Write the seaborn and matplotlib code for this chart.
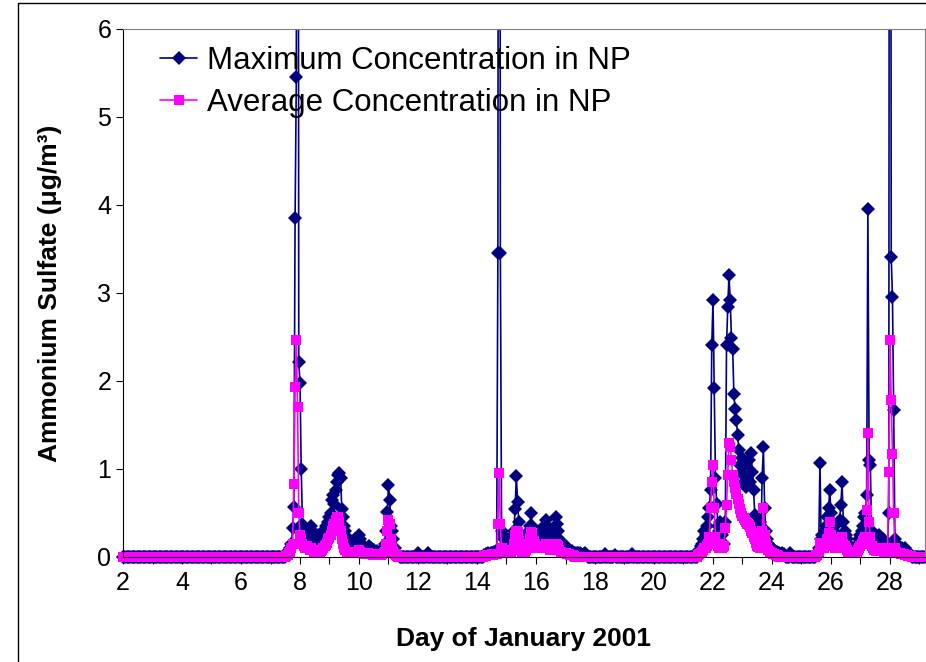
import numpy as np
import matplotlib
matplotlib.use("Agg")
import matplotlib.pyplot as plt
import seaborn as sns
from matplotlib.patches import Rectangle

# hourly readings starting Jan 2 00:00
first_day = 2.0
n_hours = 654
OFF = 20.0  # spikes that run off the top of the axis

# max concentration, runs of hourly values keyed by start day (zero elsewhere)
max_episodes = {
    7.5: [0.0, 0.02, 0.05, 0.08, 0.1, 0.15, 0.33, 0.57, 3.85, 5.45, OFF, 2.22, 1.98, 1.0, 0.38, 0.3,
          0.25, 0.2, 0.3, 0.25, 0.2, 0.35, 0.3, 0.2, 0.15, 0.2, 0.25, 0.18, 0.15, 0.2, 0.25, 0.3,
          0.25, 0.35, 0.3, 0.4, 0.45, 0.5, 0.65, 0.7, 0.6, 0.76, 0.85, 0.93, 0.95, 0.9, 0.55, 0.45,
          0.35, 0.3, 0.2, 0.15, 0.2, 0.15, 0.12, 0.1, 0.15, 0.2, 0.15, 0.1, 0.25, 0.2, 0.15, 0.1,
          0.12, 0.1, 0.08, 0.1, 0.12, 0.08, 0.1, 0.06, 0.08, 0.06, 0.05, 0.07, 0.05, 0.06, 0.05,
          0.08, 0.1, 0.15, 0.3, 0.51, 0.82, 0.65, 0.35, 0.3, 0.2, 0.1, 0.05, 0.03, 0.02],
    12.0: [0.05],
    12.333: [0.05],
    14.25: [0.02, 0.03, 0.03, 0.04, 0.03, 0.04, 0.05, 0.05, 0.06, 0.05, 0.08, 3.45, OFF, 3.45, 0.3,
            0.25, 0.2, 0.15, 0.2, 0.15, 0.2, 0.12, 0.15, 0.2, 0.3, 0.55, 0.92, 0.63, 0.4, 0.25, 0.2,
            0.15, 0.12, 0.15, 0.2, 0.25, 0.3, 0.35, 0.5, 0.35, 0.25, 0.2, 0.15, 0.2, 0.18, 0.25, 0.2,
            0.3, 0.34, 0.3, 0.42, 0.35, 0.25, 0.2, 0.18, 0.25, 0.3, 0.33, 0.45, 0.38, 0.3, 0.2, 0.15,
            0.12, 0.1, 0.1, 0.12, 0.1, 0.08, 0.08, 0.06, 0.07, 0.05, 0.05, 0.04, 0.05, 0.04, 0.03,
            0.04, 0.03, 0.02, 0.03, 0.04, 0.02],
    18.333: [0.03],
    18.667: [0.02],
    19.25: [0.03],
    21.5: [0.05, 0.08, 0.12, 0.15, 0.2, 0.3, 0.25, 0.35, 0.45, 0.56, 0.76, 2.41, 2.92, 1.92, 0.9, 0.6,
           0.35, 0.3, 0.4, 0.25, 0.3, 0.15, 0.4, 2.41, 2.84, 3.2, 2.92, 2.49, 2.36, 1.85, 1.68, 1.56,
           1.39, 1.22, 1.05, 0.95, 1.12, 0.85, 1.05, 0.8, 0.9, 1.1, 0.85, 1.18, 0.97, 0.76, 0.48,
           0.35, 0.28, 0.3, 0.4, 0.25, 0.9, 1.25, 0.56, 0.3, 0.2, 0.15, 0.12, 0.08, 0.1, 0.08, 0.06,
           0.05, 0.06, 0.04, 0.05, 0.03, 0.04, 0.02, 0.03],
    24.625: [0.05],
    25.5: [0.02, 0.05, 0.1, 1.07, 0.2, 0.25, 0.2, 0.3, 0.35, 0.45, 0.56, 0.76, 0.5, 0.35, 0.3, 0.25,
           0.2, 0.25, 0.39, 0.42, 0.59, 0.85, 0.4, 0.3, 0.25, 0.2, 0.15, 0.12, 0.1, 0.08, 0.1, 0.08,
           0.1, 0.12, 0.15, 0.2, 0.25, 0.3, 0.35, 0.45, 0.5, 0.7, 3.95, 1.1, 1.05, 0.3, 0.2, 0.15,
           0.2, 0.15, 0.2, 0.25, 0.2, 0.15, 0.2, 0.15, 0.12, 0.1, 0.15, 0.5, OFF, 3.41, 2.95, 1.67,
           0.2, 0.12, 0.1, 0.12, 0.1, 0.08, 0.1, 0.08, 0.1, 0.06, 0.05, 0.04, 0.03, 0.02],
}

# average concentration
avg_episodes = {
    7.5: [0.0, 0.01, 0.02, 0.04, 0.06, 0.1, 0.15, 0.83, 1.93, 2.47, 1.7, 0.5, 0.25, 0.2, 0.15, 0.12,
          0.1, 0.1, 0.12, 0.1, 0.08, 0.1, 0.08, 0.06, 0.05, 0.05, 0.06, 0.05, 0.06, 0.07, 0.08, 0.1,
          0.12, 0.14, 0.16, 0.2, 0.22, 0.25, 0.3, 0.35, 0.38, 0.42, 0.45, 0.45, 0.4, 0.3, 0.2, 0.15,
          0.1, 0.08, 0.06, 0.05, 0.06, 0.05, 0.04, 0.04, 0.05, 0.06, 0.05, 0.04, 0.08, 0.06, 0.05,
          0.04, 0.04, 0.03, 0.03, 0.04, 0.03, 0.03, 0.03, 0.02, 0.03, 0.02, 0.02, 0.03, 0.02, 0.03,
          0.02, 0.03, 0.04, 0.06, 0.15, 0.3, 0.42, 0.38, 0.2, 0.1, 0.06, 0.03, 0.02, 0.01, 0.0],
    14.25: [0.01, 0.01, 0.02, 0.02, 0.02, 0.02, 0.03, 0.02, 0.03, 0.03, 0.03, 0.37, 0.95, 0.37, 0.1,
            0.08, 0.06, 0.05, 0.06, 0.05, 0.06, 0.05, 0.06, 0.08, 0.15, 0.25, 0.3, 0.28, 0.18, 0.1,
            0.08, 0.06, 0.05, 0.06, 0.08, 0.1, 0.15, 0.22, 0.28, 0.25, 0.18, 0.15, 0.12, 0.1, 0.1,
            0.12, 0.1, 0.12, 0.13, 0.12, 0.15, 0.13, 0.1, 0.08, 0.08, 0.1, 0.11, 0.12, 0.15, 0.14,
            0.12, 0.08, 0.06, 0.05, 0.04, 0.04, 0.04, 0.03, 0.03, 0.03, 0.02, 0.02, 0.02, 0.01],
    21.5: [0.02, 0.03, 0.05, 0.06, 0.08, 0.1, 0.1, 0.12, 0.15, 0.23, 0.56, 0.85, 1.04, 0.56, 0.23,
           0.15, 0.12, 0.1, 0.15, 0.1, 0.11, 0.12, 0.33, 0.59, 0.93, 1.29, 1.25, 1.1, 0.93, 0.85,
           0.78, 0.72, 0.66, 0.6, 0.55, 0.5, 0.47, 0.44, 0.42, 0.4, 0.38, 0.36, 0.34, 0.3, 0.27,
           0.23, 0.2, 0.16, 0.13, 0.11, 0.1, 0.12, 0.3, 0.56, 0.25, 0.15, 0.1, 0.08, 0.06, 0.05,
           0.04, 0.03, 0.03, 0.02, 0.02, 0.01],
    25.5: [0.01, 0.02, 0.05, 0.16, 0.12, 0.1, 0.1, 0.12, 0.15, 0.2, 0.27, 0.4, 0.25, 0.15, 0.12, 0.1,
           0.1, 0.12, 0.15, 0.18, 0.2, 0.23, 0.15, 0.12, 0.1, 0.08, 0.06, 0.05, 0.04, 0.04, 0.04,
           0.05, 0.05, 0.06, 0.08, 0.1, 0.12, 0.15, 0.18, 0.2, 0.23, 0.53, 1.41, 0.4, 0.23, 0.12,
           0.1, 0.08, 0.08, 0.07, 0.08, 0.1, 0.08, 0.07, 0.08, 0.06, 0.05, 0.05, 0.1, 0.97, 2.47,
           1.78, 1.17, 0.5, 0.1, 0.06, 0.05, 0.04, 0.04, 0.03, 0.03, 0.03, 0.02, 0.02, 0.02, 0.01,
           0.01, 0.01],
}

days = first_day + np.arange(n_hours) / 24


def fill(episodes):
    vals = np.zeros(n_hours)
    for start, seq in episodes.items():
        i = int(round((start - first_day) * 24))
        vals[i:i + len(seq)] = seq
    return vals


max_vals = fill(max_episodes)
avg_vals = fill(avg_episodes)

sns.set_style("ticks")
plt.rcParams['font.family'] = ['Liberation Sans', 'DejaVu Sans']
for key in ['text.color', 'axes.labelcolor', 'xtick.color', 'ytick.color']:
    plt.rcParams[key] = 'black'

fig = plt.figure(figsize=(9.26, 6.62), dpi=100)
ax = fig.add_axes([123 / 926, 1 - 557 / 662, 802 / 926, 528 / 662])

sns.lineplot(x=days, y=max_vals, ax=ax, color='#000080', marker='D', markersize=7,
             markeredgewidth=0, linewidth=1.2, estimator=None, label='Maximum Concentration in NP')
sns.lineplot(x=days, y=avg_vals, ax=ax, color='#FF00FF', marker='s', markersize=7.5,
             markeredgewidth=0, linewidth=1.2, estimator=None, label='Average Concentration in NP')

ax.set_xlim(2, 2 + 802 / 29.5)
ax.set_ylim(0, 6)

# clip only at the top so the zero-level markers sit on the axis line like Excel
clip = Rectangle((0, -1), 40, 7, transform=ax.transData)
for line in ax.lines:
    line.set_clip_path(clip)

ax.set_xticks(np.arange(2, 30, 2))
ax.set_xticks(np.arange(2, 30, 1), minor=True)
ax.set_yticks(range(0, 7))
ax.tick_params(axis='both', which='both', direction='out', length=5, width=0.8, labelsize=18)
ax.tick_params(axis='x', pad=5)

for side in ['top', 'right']:
    ax.spines[side].set_color('#808080')
for side in ['left', 'bottom']:
    ax.spines[side].set_color('black')

ax.set_xlabel('Day of January 2001', fontsize=19, fontweight='bold', labelpad=23)
ax.set_ylabel('Ammonium Sulfate (μg/m³)', fontsize=19, fontweight='bold', labelpad=25)

ax.legend(loc='upper left', bbox_to_anchor=(0.046, 0.967), frameon=False, fontsize=22.5,
          handlelength=1.2, handletextpad=0.3, labelspacing=0.38, borderaxespad=0, borderpad=0)

# outer chart border
fig.patches.append(Rectangle((18 / 926, -0.01), 1.0, 1 - 3 / 662 + 0.01, transform=fig.transFigure,
                             fill=False, edgecolor='black', linewidth=1))

fig.savefig('out.png', dpi=100)
